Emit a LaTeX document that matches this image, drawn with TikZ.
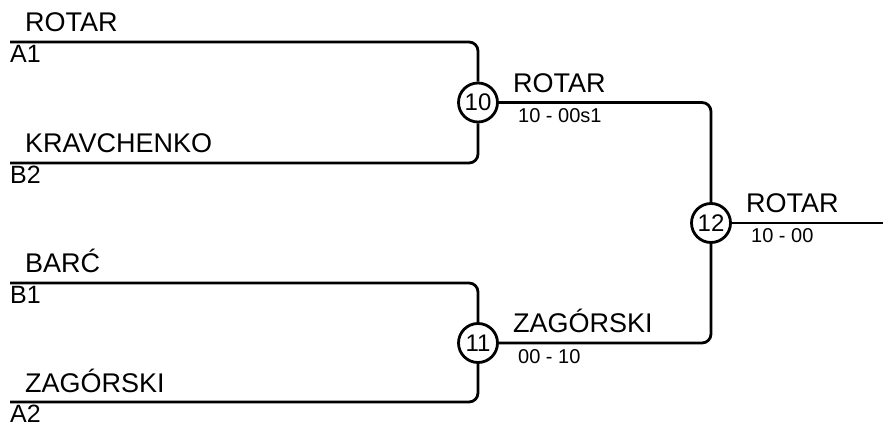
\documentclass[tikz,border=0pt]{standalone}
\usepackage{fontspec}
\setmainfont{Liberation Sans}
\usetikzlibrary{positioning}
\tikzstyle{match} = [circle, draw, line width=2.8pt, minimum size=39pt, inner sep=0pt, font=\fontsize{24}{24}\selectfont]
\tikzstyle{player} = [anchor=base west, inner sep=0pt, font=\fontsize{27}{27}\selectfont]
\tikzstyle{seed} = [anchor=base west, inner sep=0pt, font=\fontsize{25}{25}\selectfont]
\tikzstyle{score} = [anchor=base west, inner sep=0pt, font=\fontsize{20}{20}\selectfont]
\tikzstyle{bracket} = [line width=2.8pt, rounded corners=9pt]

\begin{document}
\begin{tikzpicture}[x=1pt, y=-1pt]
\useasboundingbox (0,0) rectangle (883,427);

% first round
\coordinate (a1) at (10,42);
\coordinate (b2) at (10,163);
\coordinate (b1) at (10,283);
\coordinate (a2) at (10,402);

\node[match] (m10) at (478,102.5) {10};
\node[match] (m11) at (478,343) {11};
\node[match] (m12) at (711,223) {12};
\coordinate (final) at (883,223);

\node[player] (p1) at ([shift={(15,-10)}]a1) {ROTAR};
\node[seed] (s1) at ([shift={(0,21)}]a1) {A1};
\node[player] (p2) at ([shift={(15,-10)}]b2) {KRAVCHENKO};
\node[seed] (s2) at ([shift={(0,21)}]b2) {B2};
\node[player] (p3) at ([shift={(15,-10)}]b1) {BAR\'C};
\node[seed] (s3) at ([shift={(0,21)}]b1) {B1};
\node[player] (p4) at ([shift={(15,-10)}]a2) {ZAG\'ORSKI};
\node[seed] (s4) at ([shift={(0,20)}]a2) {A2};

% second round
\node[player] (w10) at ([shift={(35,-10)}]m10.center) {ROTAR};
\node[score] (r10) at ([shift={(40,20)}]m10.center) {10 - 00s1};
\node[player] (w11) at ([shift={(35,-10)}]m11.center) {ZAG\'ORSKI};
\node[score] (r11) at ([shift={(40,20)}]m11.center) {00 - 10};

% final
\node[player] (w12) at ([shift={(35,-10)}]m12.center) {ROTAR};
\node[score] (r12) at ([shift={(40,20)}]m12.center) {10 - 00};

\draw[bracket] (a1) -| (m10);
\draw[bracket] (b2) -| (m10);
\draw[bracket] (b1) -| (m11);
\draw[bracket] (a2) -| (m11);
\draw[bracket] (m10) -| (m12);
\draw[bracket] (m11) -| (m12);
\draw[bracket] (m12) -- (final);
\end{tikzpicture}
\end{document}
